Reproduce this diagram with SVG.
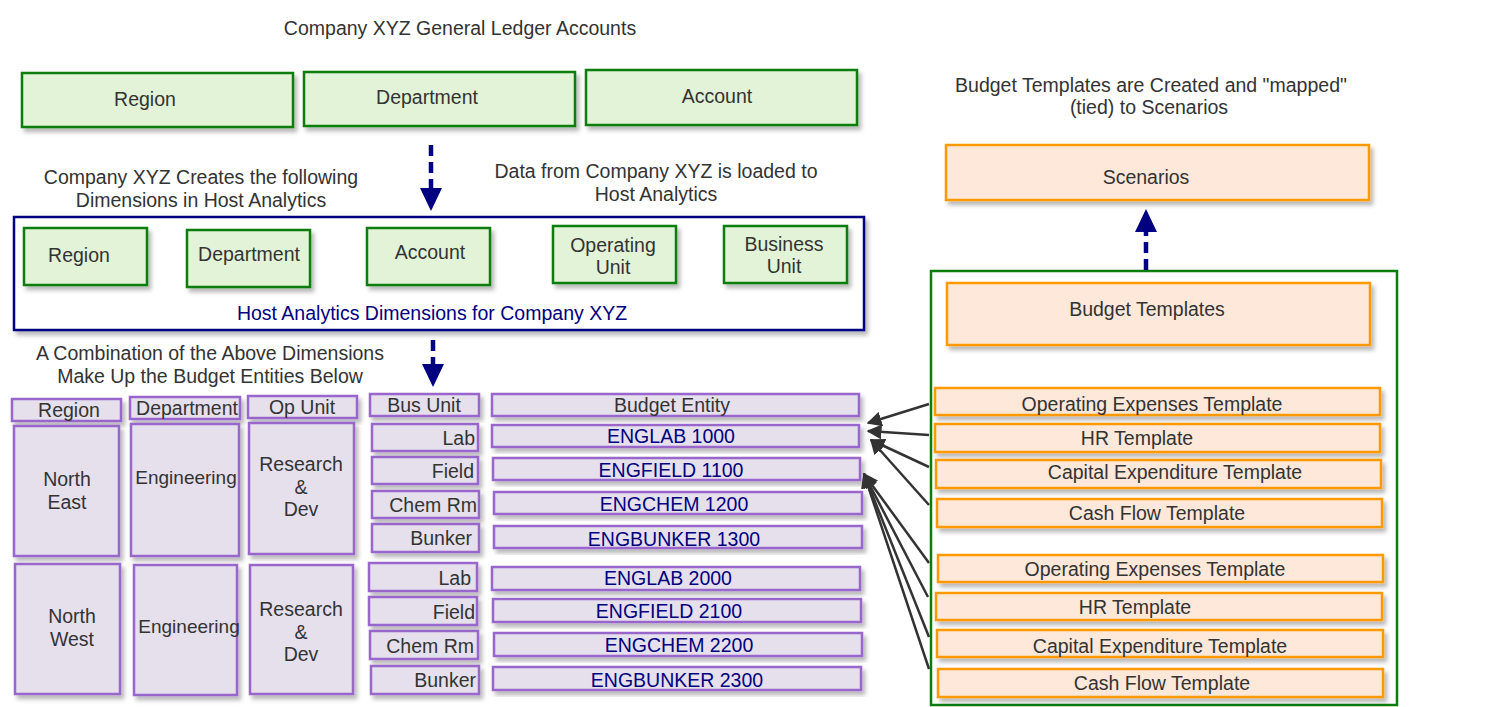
<svg xmlns="http://www.w3.org/2000/svg" width="1487" height="707" viewBox="0 0 1487 707">
<defs>
<filter id="sh" x="-10%" y="-10%" width="130%" height="140%">
<feDropShadow dx="3" dy="4" stdDeviation="2" flood-color="#000" flood-opacity="0.28"/>
</filter>
<marker id="ah" viewBox="0 0 10 10" refX="9" refY="5" markerWidth="6" markerHeight="6" markerUnits="strokeWidth" orient="auto">
<path d="M0,0 L10,5 L0,10 z" fill="#333"/>
</marker>
</defs>
<style>
text{font-family:"Liberation Sans",Arial,sans-serif;fill:#333;font-size:19.5px;text-anchor:middle}
.n{fill:#000080}
.g rect{fill:#e2f3d8;stroke:#0a7d0a;stroke-width:2.5;filter:url(#sh)}
.p rect{fill:#e5e0ec;stroke:#9966cc;stroke-width:2.5;filter:url(#sh)}
.o rect{fill:#fde8d9;stroke:#ff9900;stroke-width:2.5;filter:url(#sh)}
.r{text-anchor:end}
.dash{stroke:#000080;stroke-width:4.5;stroke-dasharray:11 6;fill:none}
.hd{fill:#000080}
.con line{stroke:#333;stroke-width:2.5}
</style>
<rect width="1487" height="707" fill="#fff"/>

<text x="460" y="35">Company XYZ General Ledger Accounts</text>
<g id="gl-region" class="g"><rect x="22" y="73" width="271" height="54"/><text x="145" y="106">Region</text></g>
<g id="gl-department" class="g"><rect x="304" y="72" width="271" height="54"/><text x="427" y="104">Department</text></g>
<g id="gl-account" class="g"><rect x="586" y="70" width="271" height="55"/><text x="717" y="103">Account</text></g>

<text x="201" y="184">Company XYZ Creates the following</text>
<text x="201" y="207">Dimensions in Host Analytics</text>
<text x="656" y="178">Data from Company XYZ is loaded to</text>
<text x="656" y="201">Host Analytics</text>

<g id="ha-container">
<rect x="14" y="217" width="850" height="113" fill="#fff" stroke="#000080" stroke-width="2.5" filter="url(#sh)"/>
<text class="n" x="432" y="320">Host Analytics Dimensions for Company XYZ</text>
</g>
<g id="ha-region" class="g"><rect x="24" y="228" width="123" height="57"/><text x="79" y="262">Region</text></g>
<g id="ha-department" class="g"><rect x="187" y="230" width="123" height="57"/><text x="249" y="261">Department</text></g>
<g id="ha-account" class="g"><rect x="367" y="228" width="123" height="57"/><text x="430" y="259">Account</text></g>
<g id="ha-opunit" class="g"><rect x="553" y="226" width="123" height="57"/><text x="613" y="252">Operating</text><text x="613" y="274">Unit</text></g>
<g id="ha-busunit" class="g"><rect x="724" y="226" width="123" height="57"/><text x="784" y="251">Business</text><text x="784" y="273">Unit</text></g>

<text x="210" y="360">A Combination of the Above Dimensions</text>
<text x="210" y="383">Make Up the Budget Entities Below</text>

<g id="h-region" class="p"><rect x="12" y="399" width="109" height="22"/><text x="69" y="417">Region</text></g>
<g id="h-department" class="p"><rect x="130" y="397" width="110" height="22"/><text x="187" y="415">Department</text></g>
<g id="h-opunit" class="p"><rect x="248" y="396" width="109" height="22"/><text x="302" y="414">Op Unit</text></g>
<g id="h-busunit" class="p"><rect x="370" y="394" width="109" height="22"/><text x="424" y="412">Bus Unit</text></g>
<g id="h-entity" class="p"><rect x="492" y="394" width="367" height="22"/><text x="672" y="412">Budget Entity</text></g>

<g id="ne" class="p"><rect x="14" y="426" width="105" height="130"/><text x="67" y="486">North</text><text x="67" y="509">East</text></g>
<g id="eng1" class="p"><rect x="131" y="424" width="108" height="132"/><text x="186" y="484" style="font-size:19px">Engineering</text></g>
<g id="rd1" class="p"><rect x="249" y="423" width="105" height="131"/><text x="301" y="471">Research</text><text x="301" y="494">&amp;</text><text x="301" y="516">Dev</text></g>
<g id="nw" class="p"><rect x="15" y="564" width="105" height="130"/><text x="72" y="623">North</text><text x="72" y="646">West</text></g>
<g id="eng2" class="p"><rect x="134" y="565" width="103" height="130"/><text x="189" y="633" style="font-size:19px">Engineering</text></g>
<g id="rd2" class="p"><rect x="250" y="565" width="103" height="129"/><text x="301" y="616">Research</text><text x="301" y="639">&amp;</text><text x="301" y="661">Dev</text></g>

<g id="bu-lab1" class="p"><rect x="372" y="424" width="106" height="27"/><text class="r" x="475" y="445">Lab</text></g>
<g id="bu-field1" class="p"><rect x="372" y="457" width="106" height="27"/><text class="r" x="474" y="478">Field</text></g>
<g id="bu-chem1" class="p"><rect x="372" y="491" width="107" height="27"/><text class="r" x="477" y="512">Chem Rm</text></g>
<g id="bu-bunker1" class="p"><rect x="372" y="524" width="107" height="28"/><text class="r" x="472" y="545">Bunker</text></g>
<g id="be-1000" class="p"><rect x="492" y="425" width="367" height="22"/><text class="n" x="671" y="443">ENGLAB 1000</text></g>
<g id="be-1100" class="p"><rect x="493" y="458" width="367" height="22"/><text class="n" x="671" y="477">ENGFIELD 1100</text></g>
<g id="be-1200" class="p"><rect x="494" y="492" width="368" height="22"/><text class="n" x="674" y="511">ENGCHEM 1200</text></g>
<g id="be-1300" class="p"><rect x="494" y="526" width="368" height="22"/><text class="n" x="674" y="546">ENGBUNKER 1300</text></g>

<g id="bu-lab2" class="p"><rect x="369" y="563" width="108" height="28"/><text class="r" x="471" y="585">Lab</text></g>
<g id="bu-field2" class="p"><rect x="369" y="597" width="108" height="28"/><text class="r" x="475" y="619">Field</text></g>
<g id="bu-chem2" class="p"><rect x="370" y="631" width="108" height="28"/><text class="r" x="474" y="653">Chem Rm</text></g>
<g id="bu-bunker2" class="p"><rect x="371" y="666" width="108" height="28"/><text class="r" x="476" y="687">Bunker</text></g>
<g id="be-2000" class="p"><rect x="492" y="567" width="368" height="23"/><text class="n" x="668" y="585">ENGLAB 2000</text></g>
<g id="be-2100" class="p"><rect x="493" y="599" width="368" height="23"/><text class="n" x="669" y="618">ENGFIELD 2100</text></g>
<g id="be-2200" class="p"><rect x="494" y="633" width="368" height="23"/><text class="n" x="679" y="652">ENGCHEM 2200</text></g>
<g id="be-2300" class="p"><rect x="493" y="667" width="368" height="23"/><text class="n" x="677" y="687">ENGBUNKER 2300</text></g>

<text x="1151" y="92">Budget Templates are Created and "mapped"</text>
<text x="1149" y="114">(tied) to Scenarios</text>
<g id="scenarios" class="o"><rect x="946" y="145" width="423" height="55"/><text x="1146" y="184">Scenarios</text></g>

<g id="bt-container">
<rect x="931" y="271" width="466" height="434" fill="none" stroke="#0a7d0a" stroke-width="2.5"/>
</g>
<g id="budget-templates" class="o"><rect x="947" y="283" width="423" height="62"/><text x="1147" y="316">Budget Templates</text></g>
<g id="t-opex1" class="o"><rect x="935" y="388" width="445" height="27"/><text x="1152" y="411">Operating Expenses Template</text></g>
<g id="t-hr1" class="o"><rect x="935" y="424" width="445" height="28"/><text x="1137" y="445">HR Template</text></g>
<g id="t-capex1" class="o"><rect x="936" y="460" width="445" height="28"/><text x="1175" y="479">Capital Expenditure Template</text></g>
<g id="t-cf1" class="o"><rect x="937" y="499" width="445" height="28"/><text x="1157" y="520">Cash Flow Template</text></g>
<g id="t-opex2" class="o"><rect x="938" y="555" width="445" height="27"/><text x="1155" y="576">Operating Expenses Template</text></g>
<g id="t-hr2" class="o"><rect x="936" y="593" width="446" height="27"/><text x="1135" y="614">HR Template</text></g>
<g id="t-capex2" class="o"><rect x="937" y="630" width="446" height="27"/><text x="1160" y="653">Capital Expenditure Template</text></g>
<g id="t-cf2" class="o"><rect x="938" y="669" width="445" height="28"/><text x="1162" y="690">Cash Flow Template</text></g>

<g id="connectors">
<line class="dash" x1="431" y1="145" x2="431" y2="188"/>
<path class="hd" d="M420,188 L442,188 L431,211 z"/>
<line class="dash" x1="433" y1="340" x2="433" y2="364"/>
<path class="hd" d="M422,364 L444,364 L433,387 z"/>
<line class="dash" x1="1146" y1="270" x2="1146" y2="232"/>
<path class="hd" d="M1135,232 L1157,232 L1146,209 z"/>
<g class="con">
<line x1="929" y1="404" x2="868" y2="423" marker-end="url(#ah)"/>
<line x1="929" y1="435" x2="868" y2="431" marker-end="url(#ah)"/>
<line x1="929" y1="467" x2="871" y2="440" marker-end="url(#ah)"/>
<line x1="929" y1="505" x2="871" y2="440" marker-end="url(#ah)"/>
<line x1="929" y1="563" x2="864" y2="474" marker-end="url(#ah)"/>
<line x1="928" y1="597" x2="864" y2="474" marker-end="url(#ah)"/>
<line x1="929" y1="637" x2="864" y2="474" marker-end="url(#ah)"/>
<line x1="929" y1="669" x2="864" y2="474" marker-end="url(#ah)"/>
</g>
</g>
</svg>
